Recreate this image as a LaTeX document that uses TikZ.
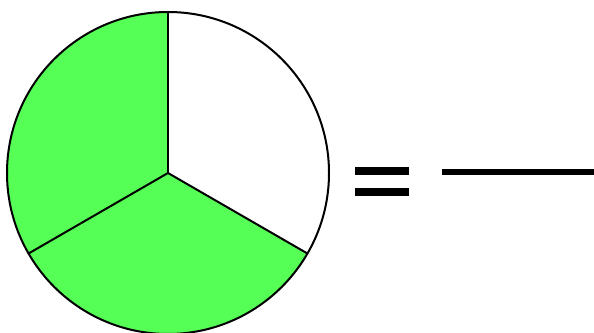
\documentclass[tikz,border=0pt]{standalone}
\definecolor{piegreen}{RGB}{85,255,85}
\begin{document}
\begin{tikzpicture}[x=1pt,y=1pt,
  edge/.style={draw=black,line width=2pt,line join=round},
  bar/.style={fill=black}]
\useasboundingbox (0,0) rectangle (594,332);
\coordinate (c) at (168,159);
\def\R{161}
% sectors
\fill[white] (c) -- ++(90:\R) arc[start angle=90,end angle=-30,radius=\R] -- cycle;
\fill[piegreen] (c) -- ++(90:\R) arc[start angle=90,end angle=210,radius=\R] -- cycle;
\fill[piegreen] (c) -- ++(210:\R) arc[start angle=210,end angle=330,radius=\R] -- cycle;
\draw[edge] (c) circle[radius=\R];
\draw[edge] (c) -- ++(90:\R);
\draw[edge] (c) -- ++(210:\R);
\draw[edge] (c) -- ++(-30:\R);
% equals sign
\fill[bar] (355,157) rectangle (409,165);
\fill[bar] (355,136) rectangle (409,144);
% fraction line
\fill[bar] (442,157) rectangle (594,163);
\end{tikzpicture}
\end{document}
